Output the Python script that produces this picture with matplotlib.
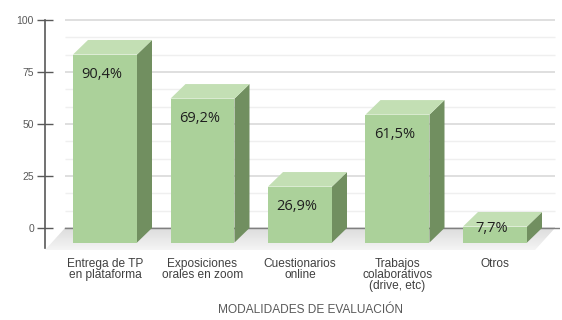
import matplotlib
matplotlib.use("Agg")
import matplotlib.pyplot as plt
from matplotlib.patches import Polygon
import numpy as np

categories = ["Entrega de TP\nen plataforma", "Exposiciones\norales en zoom",
              "Cuestionarios\nonline", "Trabajos\ncolaborativos\n(drive, etc)", "Otros"]
values = [90.4, 69.2, 26.9, 61.5, 7.7]
value_labels = ["90,4%", "69,2%", "26,9%", "61,5%", "7,7%"]
y_ticks = [0, 25, 50, 75, 100]
x_title = "MODALIDADES DE EVALUACIÓN"

W, H, DPI = 562, 320, 100
fig = plt.figure(figsize=(W / DPI, H / DPI), dpi=DPI)

# axes box in pixels (from top-left)
ax_left, ax_right, ax_top, ax_bottom = 40, 560, 15, 255
ax = fig.add_axes([ax_left / W, 1 - ax_bottom / H,
                   (ax_right - ax_left) / W, (ax_bottom - ax_top) / H])
px_per_x = 97.5
px_per_y = 2.08
x0_px, y0_px = 105, 228
ax.set_xlim((ax_left - x0_px) / px_per_x, (ax_right - x0_px) / px_per_x)
ax.set_ylim(-(ax_bottom - y0_px) / px_per_y, (y0_px - ax_top) / px_per_y)

# pseudo-3D geometry (data units)
bar_w = 64 / px_per_x
dx = 15 / px_per_x
dy = 7.0
wall_left = (65 - x0_px) / px_per_x
wall_right = (555 - x0_px) / px_per_x
floor_dx = 20 / px_per_x
floor_dy = 10.6

front_c = "#abd19a"
side_c = "#718f60"
top_c = "#c3dfb4"

# gridlines on back wall: major at ticks, two light ones between
for k in range(0, 13):
    yv = k * 100 / 12
    major = k % 3 == 0
    ax.plot([wall_left, wall_right], [yv, yv],
            color="#d9d9d9" if major else "#efefef",
            lw=1.2 if major else 1.0, zorder=1, solid_capstyle="butt")

# floor with a soft front-to-back shade
floor = Polygon([(wall_left, 0), (wall_right, 0),
                 (wall_right - floor_dx, -floor_dy), (wall_left - floor_dx, -floor_dy)],
                closed=True, facecolor="none", edgecolor="none", zorder=1.5)
ax.add_patch(floor)
grad = np.linspace(0.86, 0.96, 64).reshape(-1, 1)
img = ax.imshow(np.dstack([grad, grad, grad]), aspect="auto",
                extent=(wall_left - floor_dx, wall_right, -floor_dy, 0),
                origin="upper", zorder=1.5, interpolation="bilinear")
img.set_clip_path(floor)
ax.plot([wall_left, 4.75], [0, 0], color="#7f7f7f", lw=1.0, zorder=2)

# bars
for i, v in enumerate(values):
    xl, xr = i - bar_w / 2, i + bar_w / 2
    front = Polygon([(xl, -dy), (xr, -dy), (xr, v - dy), (xl, v - dy)],
                    facecolor=front_c, edgecolor="none", zorder=5)
    side = Polygon([(xr, -dy), (xr + dx, 0), (xr + dx, v), (xr, v - dy)],
                   facecolor=side_c, edgecolor="none", zorder=4)
    top = Polygon([(xl, v - dy), (xr, v - dy), (xr + dx, v), (xl + dx, v)],
                  facecolor=top_c, edgecolor="none", zorder=4)
    for p in (side, top, front):
        ax.add_patch(p)
    ly = max(v - 16.5, 0)
    ax.text(i - 0.03, ly, value_labels[i], ha="center", va="center",
            fontsize=10.5, color="#1f1f1f", family="Open Sans", zorder=6)

# y axis
for s in ("top", "right", "bottom"):
    ax.spines[s].set_visible(False)
ax.spines["left"].set_position(("data", (45 - x0_px) / px_per_x))
ax.spines["left"].set_bounds(-(248 - y0_px) / px_per_y, 100)
ax.spines["left"].set_color("#595959")
ax.spines["left"].set_linewidth(1.2)
ax.set_yticks(y_ticks)
ax.tick_params(axis="y", direction="inout", length=12, width=1.0,
               color="#595959", labelcolor="#595959", labelsize=7.5, pad=2)
for t in ax.get_yticklabels():
    t.set_family("Liberation Sans")

ax.set_xticks(range(len(categories)))
ax.set_xticklabels(categories, fontsize=8.6, color="#404040",
                   family="Liberation Sans", linespacing=0.88, va="top")
ax.tick_params(axis="x", length=0, pad=2)

fig.text(310 / W, 1 - 310 / H, x_title, ha="center", va="center",
         fontsize=8.6, color="#595959", family="Liberation Sans")

fig.savefig("out.png", dpi=DPI)
